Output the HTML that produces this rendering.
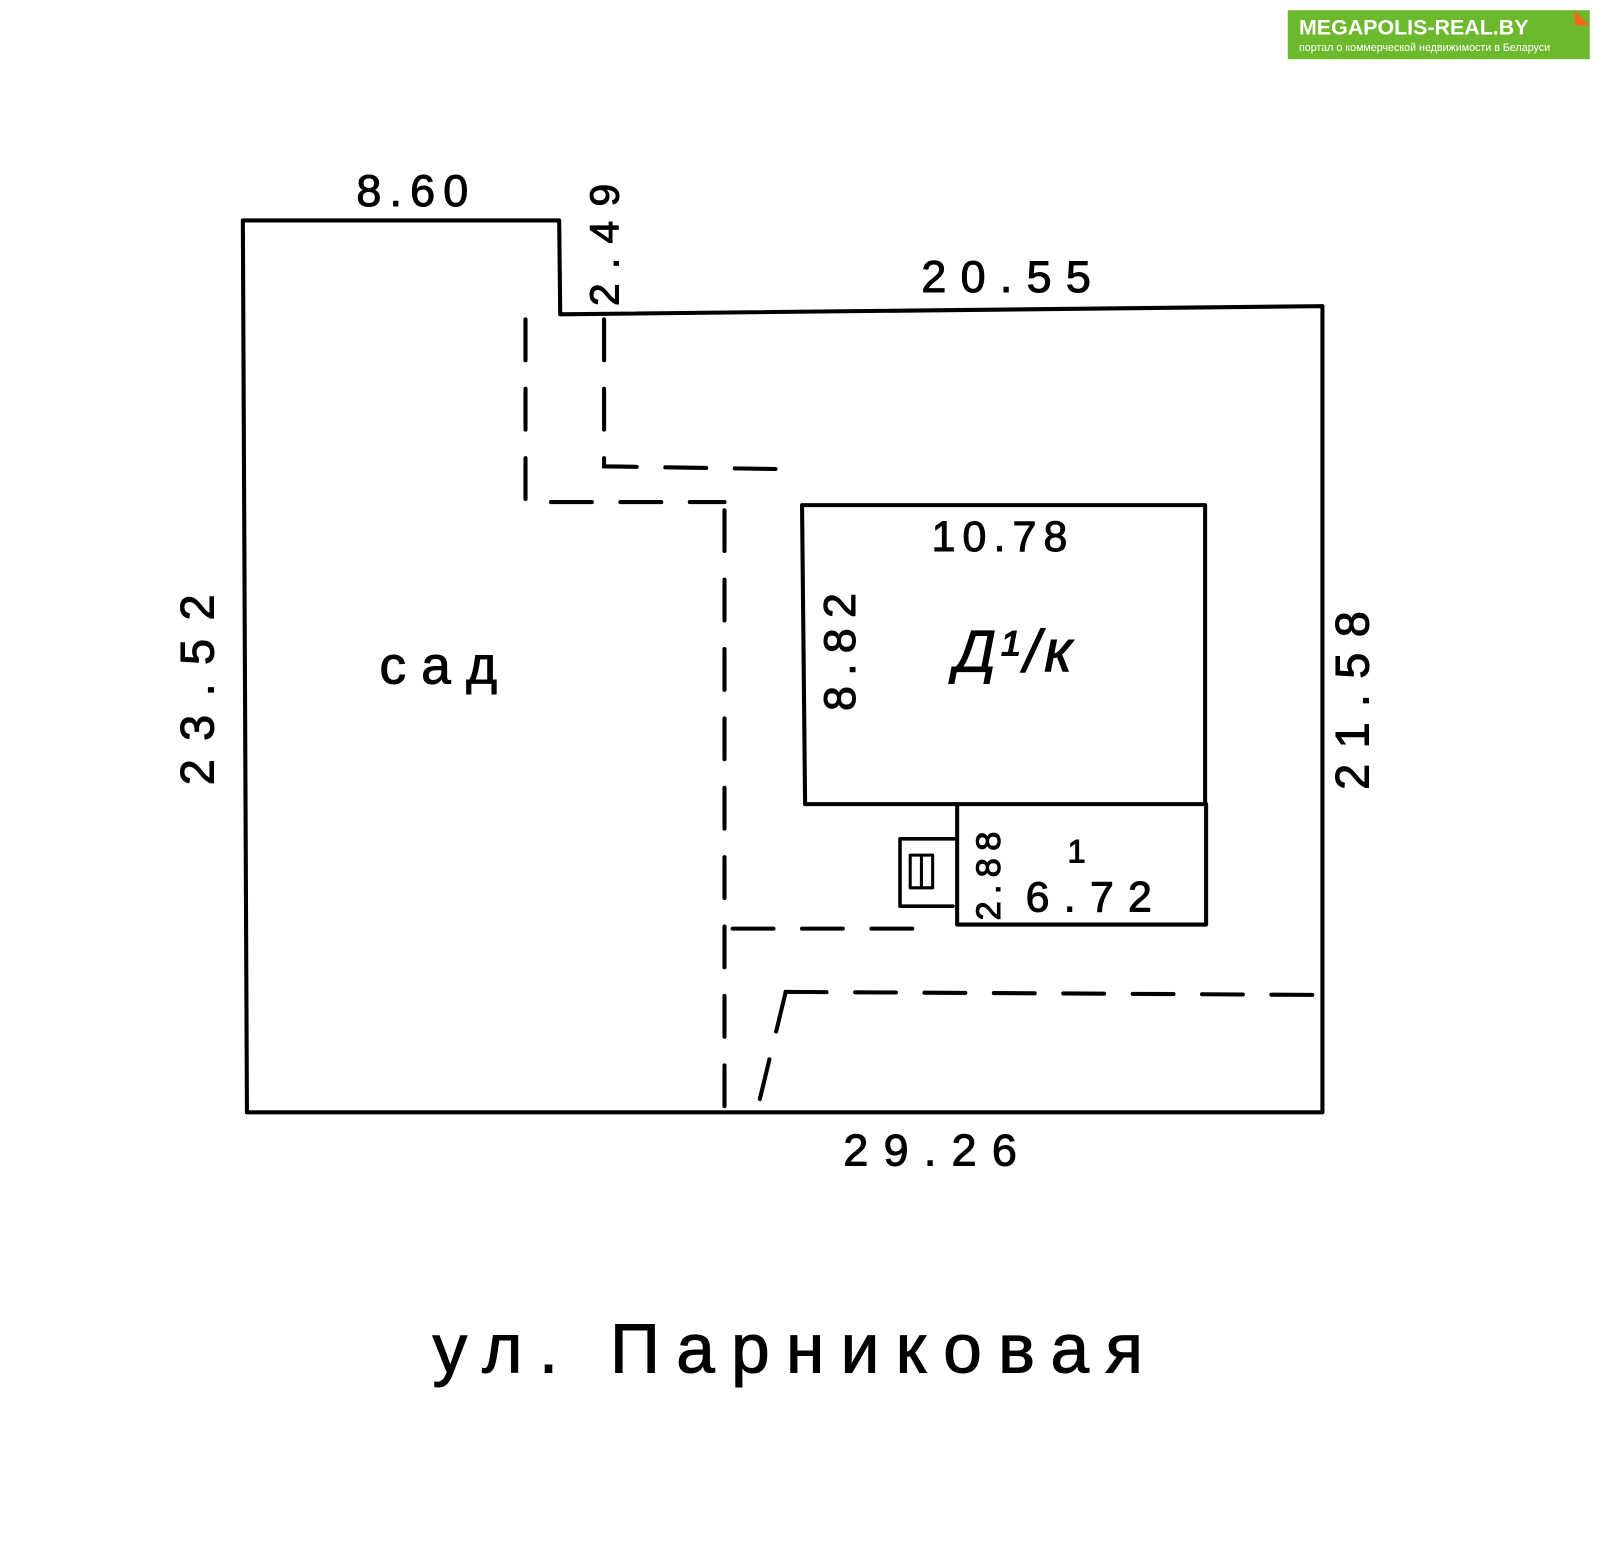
<!DOCTYPE html>
<html><head><meta charset="utf-8">
<style>
html,body{margin:0;padding:0;background:#fff;}
svg{display:block;}
.t{font-family:"Liberation Sans","DejaVu Sans",sans-serif;fill:#000;stroke:#000;stroke-width:1;}
</style></head>
<body>
<svg width="1600" height="1546" viewBox="0 0 1568 1515" preserveAspectRatio="none" xmlns="http://www.w3.org/2000/svg">
<rect width="1568" height="1515" fill="#fff"/>
<!-- logo -->
<rect x="1262" y="10" width="296" height="48" fill="#6db92e"/>
<polygon points="1543,10 1558,25 1543,25" fill="#f26b1d"/>
<text x="1273" y="34" font-family="Liberation Sans, sans-serif" font-size="21" font-weight="bold" fill="#fff">MEGAPOLIS-REAL.BY</text>
<text x="1273" y="50" font-family="Liberation Sans, sans-serif" font-size="10.5" fill="#fff">портал о коммерческой недвижимости в Беларуси</text>

<g fill="none" stroke="#000" stroke-width="4" stroke-linecap="round" stroke-linejoin="round">
<polyline points="242,1090 238,216 548,216 549,308 1296,300 1296,1090 242,1090"/>
<polyline points="786,495 1181,495 1181,788 789,788 786,495"/>
<polyline points="938,788 938,906 1182,906 1182,788"/>
<polyline points="936,822 882,822 882,888 934,888" stroke-width="3.5"/>
<polyline points="892,838 914,838 914,870 892,870 892,838" stroke-width="3"/>
<line x1="903" y1="840" x2="903" y2="868" stroke-width="3"/>
</g>
<g fill="none" stroke="#000" stroke-width="4" stroke-dasharray="40,28" stroke-linecap="round">
<polyline points="515,313 515,492 710,492"/>
<polyline points="592,313 592,457 787,460"/>
<line x1="710" y1="500" x2="710" y2="1085"/>
<line x1="718" y1="910" x2="900" y2="910"/>
<line x1="770" y1="972" x2="1296" y2="975"/>
<line x1="770" y1="972" x2="742" y2="1088"/>
</g>

<g class="t">
<text x="408" y="202" font-size="44" text-anchor="middle" letter-spacing="8">8.60</text>
<text transform="translate(592,233) rotate(-90)" font-size="40" text-anchor="middle" dy="14" letter-spacing="14">2.49</text>
<text x="993" y="286" font-size="44" text-anchor="middle" letter-spacing="14">20.55</text>
<text x="983" y="540" font-size="42" text-anchor="middle" letter-spacing="7">10.78</text>
<text transform="translate(823,634) rotate(-90)" font-size="44" text-anchor="middle" dy="15" letter-spacing="10">8.82</text>
<text x="995" y="658" font-size="58" text-anchor="middle" font-style="italic" letter-spacing="4">Д¹/к</text>
<text x="437" y="670" font-size="52" text-anchor="middle" letter-spacing="15">сад</text>
<text transform="translate(193,667) rotate(-90)" font-size="46" text-anchor="middle" dy="16" letter-spacing="18">23.52</text>
<text transform="translate(1325,679) rotate(-90)" font-size="46" text-anchor="middle" dy="16" letter-spacing="15">21.58</text>
<text x="1055" y="845" font-size="32" text-anchor="middle">1</text>
<text x="1074" y="893" font-size="42" text-anchor="middle" letter-spacing="14">6.72</text>
<text transform="translate(968,855) rotate(-90)" font-size="34" text-anchor="middle" dy="12" letter-spacing="7">2.88</text>
<text x="919" y="1142" font-size="44" text-anchor="middle" letter-spacing="15">29.26</text>
<text x="780" y="1345" font-size="68" text-anchor="middle" letter-spacing="16">ул. Парниковая</text>
</g>
</svg>
</body></html>
